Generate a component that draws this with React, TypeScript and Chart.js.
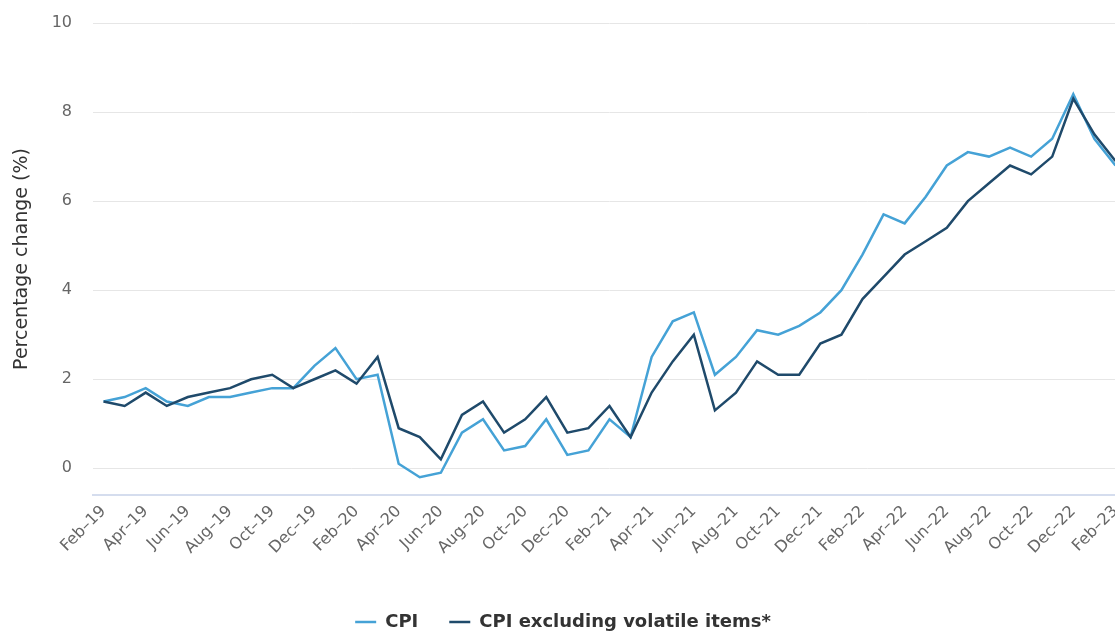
import React, { useEffect, useRef } from 'react';
import { Chart, registerables } from 'chart.js';

Chart.register(...registerables);

const months = [
  'Feb–19', 'Mar–19', 'Apr–19', 'May–19', 'Jun–19', 'Jul–19', 'Aug–19', 'Sep–19', 'Oct–19', 'Nov–19', 'Dec–19',
  'Jan–20', 'Feb–20', 'Mar–20', 'Apr–20', 'May–20', 'Jun–20', 'Jul–20', 'Aug–20', 'Sep–20', 'Oct–20', 'Nov–20', 'Dec–20',
  'Jan–21', 'Feb–21', 'Mar–21', 'Apr–21', 'May–21', 'Jun–21', 'Jul–21', 'Aug–21', 'Sep–21', 'Oct–21', 'Nov–21', 'Dec–21',
  'Jan–22', 'Feb–22', 'Mar–22', 'Apr–22', 'May–22', 'Jun–22', 'Jul–22', 'Aug–22', 'Sep–22', 'Oct–22', 'Nov–22', 'Dec–22',
  'Jan–23', 'Feb–23',
];

const cpi = [
  1.5, 1.6, 1.8, 1.5, 1.4, 1.6, 1.6, 1.7, 1.8, 1.8, 2.3,
  2.7, 2.0, 2.1, 0.1, -0.2, -0.1, 0.8, 1.1, 0.4, 0.5, 1.1, 0.3,
  0.4, 1.1, 0.7, 2.5, 3.3, 3.5, 2.1, 2.5, 3.1, 3.0, 3.2, 3.5,
  4.0, 4.8, 5.7, 5.5, 6.1, 6.8, 7.1, 7.0, 7.2, 7.0, 7.4, 8.4,
  7.4, 6.8,
];

const cpiExVolatile = [
  1.5, 1.4, 1.7, 1.4, 1.6, 1.7, 1.8, 2.0, 2.1, 1.8, 2.0,
  2.2, 1.9, 2.5, 0.9, 0.7, 0.2, 1.2, 1.5, 0.8, 1.1, 1.6, 0.8,
  0.9, 1.4, 0.7, 1.7, 2.4, 3.0, 1.3, 1.7, 2.4, 2.1, 2.1, 2.8,
  3.0, 3.8, 4.3, 4.8, 5.1, 5.4, 6.0, 6.4, 6.8, 6.6, 7.0, 8.3,
  7.5, 6.9,
];

const yTicks = [0, 2, 4, 6, 8, 10];

const FONT = "'DejaVu Sans', Verdana, sans-serif";

export default function App() {
  const ref = useRef<HTMLCanvasElement | null>(null);

  useEffect(() => {
    if (!ref.current) return;
    const chart = new Chart(ref.current, {
      type: 'line',
      data: {
        labels: months,
        datasets: [
          {
            label: 'CPI',
            data: cpi,
            borderColor: '#45a2d6',
            backgroundColor: '#45a2d6',
            borderWidth: 2.5,
            pointRadius: 0,
            tension: 0,
            fill: false,
            order: 1,
          },
          {
            label: 'CPI excluding volatile items*',
            data: cpiExVolatile,
            borderColor: '#1f4a6b',
            backgroundColor: '#1f4a6b',
            borderWidth: 2.5,
            pointRadius: 0,
            tension: 0,
            fill: false,
            order: 0,
          },
        ],
      },
      options: {
        responsive: false,
        animation: false,
        devicePixelRatio: 1,
        layout: { padding: { left: 0, right: 0, top: 23, bottom: 0 } },
        plugins: {
          tooltip: { enabled: false },
          legend: {
            display: true,
            position: 'bottom',
            labels: {
              usePointStyle: true,
              pointStyle: 'line',
              pointStyleWidth: 21,
              padding: 31,
              color: '#333333',
              font: { family: FONT, size: 18, weight: 'bold' },
              sort: (a: any, b: any) => a.datasetIndex - b.datasetIndex,
            },
          },
        },
        scales: {
          x: {
            offset: true,
            grid: { display: true, color: 'rgba(0,0,0,0)', drawTicks: false },
            border: { display: true, color: '#d5ddee', width: 2 },
            ticks: {
              autoSkip: false,
              maxRotation: 45,
              minRotation: 45,
              padding: 7,
              color: '#666666',
              font: { family: FONT, size: 16 },
              callback: (_v: any, i: number) => (i % 2 === 0 ? months[i] : ''),
            },
            afterFit: (s: any) => {
              s.paddingLeft = 0;
              s.paddingRight = 0;
              s.height = 87;
            },
          },
          y: {
            min: -0.6,
            max: 10,
            afterBuildTicks: (axis: any) => {
              axis.ticks = yTicks.map((v) => ({ value: v }));
            },
            afterFit: (s: any) => {
              s.width = 93;
              s.paddingTop = 0;
              s.paddingBottom = 0;
            },
            grid: { color: '#e6e6e6', lineWidth: 1, drawTicks: false },
            border: { display: false },
            ticks: {
              padding: 21,
              color: '#666666',
              font: { family: FONT, size: 16 },
              callback: (v: any) => String(v),
            },
            title: {
              display: true,
              text: 'Percentage change (%)',
              color: '#333333',
              padding: { top: 11, bottom: 0 },
              font: { family: FONT, size: 19 },
            },
          },
        },
      },
    });
    return () => chart.destroy();
  }, []);

  return (
    <div
      style={{
        position: 'fixed',
        left: 0,
        top: 0,
        width: 1115,
        height: 635,
        overflow: 'hidden',
        background: '#ffffff',
      }}
    >
      <canvas ref={ref} width={1126} height={641} style={{ display: 'block' }} />
    </div>
  );
}
